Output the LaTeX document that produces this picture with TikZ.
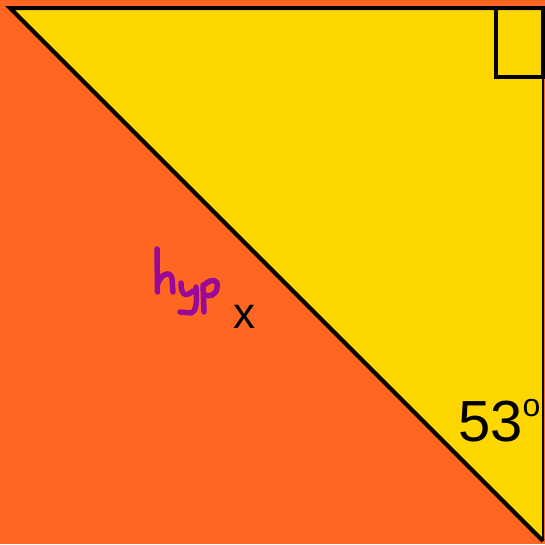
\documentclass[tikz,border=0pt]{standalone}
\usepackage{fontspec}
\setmainfont{Liberation Sans}
\definecolor{bgorange}{HTML}{FF6622}
\definecolor{triyellow}{HTML}{FFD700}
\definecolor{hyppurple}{HTML}{990A99}
\begin{document}
\begin{tikzpicture}[x=1pt,y=-1pt,
  edge/.style={line width=4pt,line join=miter,black},
  hand/.style={line width=5.5pt,line cap=round,line join=round,hyppurple},
  lbl/.style={anchor=base west,inner sep=0pt,text=black}]
\useasboundingbox (0,0) rectangle (545,544);
\fill[bgorange] (0,0) rectangle (545,544);
\coordinate (A) at (10,8);
\coordinate (B) at (543,8);
\coordinate (C) at (543,541);
\fill[triyellow] (A)--(B)--(C)--cycle;
\draw[edge] (C)--(A)--(B);
\draw[line width=2pt] (B)--(C);
\draw[edge] (496,8) rectangle (543,77);
% labels
\node[lbl] (ang) at (458,441) {\fontsize{58}{58}\selectfont 53\raisebox{25pt}{\fontsize{32}{32}\selectfont o}};
\node[lbl] (x) at (233,328) {\fontsize{44}{44}\selectfont x};
% handwritten hyp
\draw[hand] (157,249) -- (157.5,292);
\draw[hand] (158,283) .. controls (161,274) and (171,270) .. (172,279) -- (173,292);
\draw[hand] (181,283) .. controls (181,294) and (185,298) .. (193,291);
\draw[hand] (196,287) .. controls (197,300) and (197,311) .. (191,313) -- (180,312);
\draw[hand] (203,285) -- (204,312);
\draw[hand] (204,285) .. controls (212,278) and (219,279) .. (217,288) .. controls (216,295) and (210,297) .. (205,295);
\end{tikzpicture}
\end{document}
